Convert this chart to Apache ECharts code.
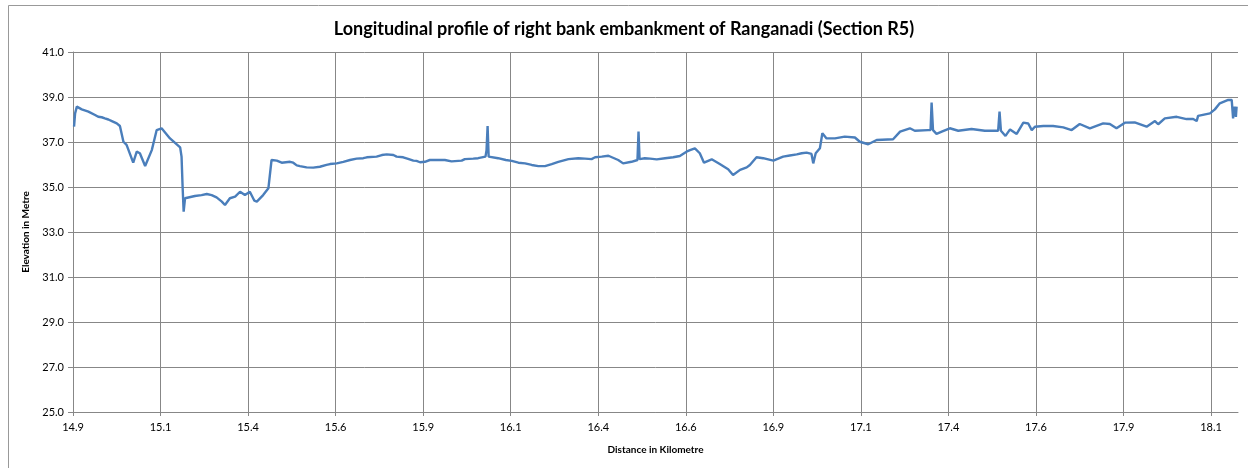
<!DOCTYPE html>
<html>
<head>
<meta charset="utf-8">
<script src="https://cdn.jsdelivr.net/npm/echarts@6/dist/echarts.min.js"></script>
<style>
  html, body { margin: 0; padding: 0; background: #fff; }
  #chart { width: 1248px; height: 468px; }
</style>
</head>
<body>
<div id="chart"></div>
<script>
// distance along the embankment (km) and surveyed crest elevation (m)
const distKm = [
  14.903, 14.906, 14.911, 14.925, 14.944, 14.963, 14.972, 14.982, 14.991, 15.001,
  15.011, 15.025, 15.034, 15.044, 15.053, 15.072, 15.082, 15.091, 15.106, 15.125,
  15.139, 15.153, 15.177, 15.206, 15.210, 15.213, 15.216, 15.220, 15.248, 15.267,
  15.282, 15.296, 15.310, 15.325, 15.334, 15.348, 15.363, 15.377, 15.391, 15.405,
  15.418, 15.425, 15.443, 15.458, 15.467, 15.482, 15.496, 15.520, 15.529, 15.539,
  15.548, 15.567, 15.586, 15.605, 15.624, 15.634, 15.653, 15.672, 15.691, 15.710,
  15.729, 15.739, 15.767, 15.782, 15.796, 15.815, 15.824, 15.843, 15.857, 15.872,
  15.881, 15.891, 15.905, 15.919, 15.939, 15.962, 15.981, 16.010, 16.019, 16.043,
  16.057, 16.078, 16.081, 16.084, 16.087, 16.114, 16.136, 16.153, 16.172, 16.191,
  16.210, 16.229, 16.248, 16.267, 16.286, 16.315, 16.343, 16.362, 16.381, 16.391,
  16.410, 16.429, 16.457, 16.471, 16.495, 16.512, 16.515, 16.518, 16.533, 16.548,
  16.567, 16.591, 16.614, 16.633, 16.652, 16.662, 16.676, 16.690, 16.702, 16.724,
  16.747, 16.771, 16.785, 16.805, 16.824, 16.833, 16.852, 16.871, 16.900, 16.928,
  16.947, 16.967, 16.981, 16.995, 17.009, 17.014, 17.021, 17.033, 17.040, 17.052,
  17.076, 17.104, 17.133, 17.147, 17.171, 17.195, 17.242, 17.262, 17.290, 17.304,
  17.342, 17.349, 17.352, 17.356, 17.366, 17.381, 17.404, 17.428, 17.466, 17.504,
  17.542, 17.546, 17.550, 17.563, 17.576, 17.595, 17.614, 17.628, 17.638, 17.647,
  17.671, 17.699, 17.728, 17.752, 17.775, 17.804, 17.842, 17.861, 17.880, 17.904,
  17.932, 17.966, 17.990, 17.999, 18.018, 18.052, 18.080, 18.099, 18.109, 18.113,
  18.147, 18.161, 18.175, 18.199, 18.203, 18.209, 18.213, 18.216, 18.221, 18.223
]
const elevation = [
  37.68, 38.27, 38.57, 38.45, 38.35, 38.20, 38.12, 38.10, 38.05, 38.00,
  37.93, 37.83, 37.71, 37.01, 36.87, 36.08, 36.57, 36.50, 35.93, 36.64,
  37.53, 37.61, 37.16, 36.76, 36.35, 35.01, 33.90, 34.50, 34.60, 34.64,
  34.69, 34.64, 34.54, 34.35, 34.20, 34.50, 34.57, 34.79, 34.64, 34.79,
  34.39, 34.35, 34.64, 34.94, 36.20, 36.17, 36.08, 36.12, 36.08, 35.96,
  35.93, 35.87, 35.86, 35.90, 35.98, 36.02, 36.05, 36.12, 36.20, 36.26,
  36.28, 36.32, 36.35, 36.42, 36.45, 36.42, 36.35, 36.32, 36.25, 36.17,
  36.16, 36.10, 36.12, 36.20, 36.20, 36.20, 36.14, 36.17, 36.24, 36.26,
  36.28, 36.35, 36.64, 37.71, 36.35, 36.28, 36.20, 36.16, 36.08, 36.05,
  35.98, 35.93, 35.93, 36.02, 36.12, 36.24, 36.28, 36.26, 36.24, 36.32,
  36.35, 36.39, 36.20, 36.05, 36.12, 36.20, 37.46, 36.24, 36.28, 36.26,
  36.23, 36.28, 36.32, 36.38, 36.57, 36.64, 36.72, 36.50, 36.08, 36.23,
  36.02, 35.79, 35.53, 35.76, 35.87, 35.98, 36.32, 36.28, 36.17, 36.35,
  36.40, 36.45, 36.50, 36.53, 36.47, 36.05, 36.50, 36.72, 37.39, 37.16,
  37.16, 37.24, 37.20, 37.01, 36.90, 37.09, 37.12, 37.46, 37.61, 37.50,
  37.53, 37.53, 38.75, 37.53, 37.36, 37.46, 37.61, 37.50, 37.58, 37.50,
  37.50, 38.35, 37.50, 37.27, 37.56, 37.36, 37.86, 37.82, 37.53, 37.68,
  37.71, 37.71, 37.65, 37.53, 37.80, 37.61, 37.83, 37.80, 37.61, 37.86,
  37.87, 37.68, 37.93, 37.79, 38.05, 38.12, 38.02, 38.02, 37.93, 38.16,
  38.27, 38.45, 38.72, 38.87, 38.80, 38.87, 38.05, 38.57, 38.12, 38.57
]
// x labels as printed on the original (every 0.25 km from 14.9)
const xTickLabels = ['14.9', '15.1', '15.4', '15.6', '15.9', '16.1', '16.4',
  '16.6', '16.9', '17.1', '17.4', '17.6', '17.9', '18.1']

const X_START = 14.9
const X_STEP = 0.25
const X_END = 18.227

const FONT = 'Lato'
const GRID_COLOR = '#878787'

const chart = echarts.init(document.getElementById('chart'))

// x is plotted as offset from the start so ticks fall on 14.9, 15.15, ...
const points = distKm.map((d, i) => [d - X_START, elevation[i]])

chart.setOption({
  animation: false,
  backgroundColor: '#fff',
  title: {
    text: 'Longitudinal profile of right bank embankment of Ranganadi (Section R5)',
    left: 'center',
    top: 15,
    textStyle: { fontFamily: FONT, fontSize: 18, fontWeight: 'bold', color: '#000' }
  },
  graphic: [{
    type: 'rect',
    silent: true,
    shape: { x: 8.5, y: 5.5, width: 1300, height: 500 },
    style: { fill: 'none', stroke: '#999', lineWidth: 1 }
  }],
  grid: { left: 73, right: 10, top: 52, bottom: 56 },
  xAxis: {
    type: 'value',
    min: 0,
    max: X_END - X_START,
    interval: X_STEP,
    name: 'Distance in Kilometre',
    nameLocation: 'middle',
    nameGap: 33,
    nameTextStyle: { fontFamily: FONT, fontSize: 10, fontWeight: 'bold', color: '#000' },
    axisLine: { lineStyle: { color: GRID_COLOR } },
    axisTick: { show: true, length: 4, lineStyle: { color: GRID_COLOR } },
    axisLabel: {
      fontFamily: FONT, fontSize: 11, color: '#000', margin: 10,
      showMaxLabel: false,
      formatter: v => {
        const k = Math.round(v / X_STEP)
        if (Math.abs(v - k * X_STEP) > 1e-6) return ''
        return xTickLabels[k] || ''
      }
    },
    splitLine: { show: true, showMaxLine: false, lineStyle: { color: GRID_COLOR, width: 1 } }
  },
  yAxis: {
    type: 'value',
    min: 25,
    max: 41,
    interval: 2,
    name: 'Elevation in Metre',
    nameLocation: 'middle',
    nameGap: 42,
    nameTextStyle: { fontFamily: FONT, fontSize: 10, fontWeight: 'bold', color: '#000' },
    axisLine: { show: true, lineStyle: { color: GRID_COLOR } },
    axisTick: { show: true, length: 5, lineStyle: { color: GRID_COLOR } },
    axisLabel: {
      fontFamily: FONT, fontSize: 11, color: '#000', margin: 9,
      formatter: v => v.toFixed(1)
    },
    splitLine: { show: true, lineStyle: { color: GRID_COLOR, width: 1 } }
  },
  series: [{
    type: 'line',
    data: points,
    showSymbol: false,
    lineStyle: { color: '#4A7EBB', width: 2.4 },
    itemStyle: { color: '#4A7EBB' }
  }]
})
</script>
</body>
</html>
